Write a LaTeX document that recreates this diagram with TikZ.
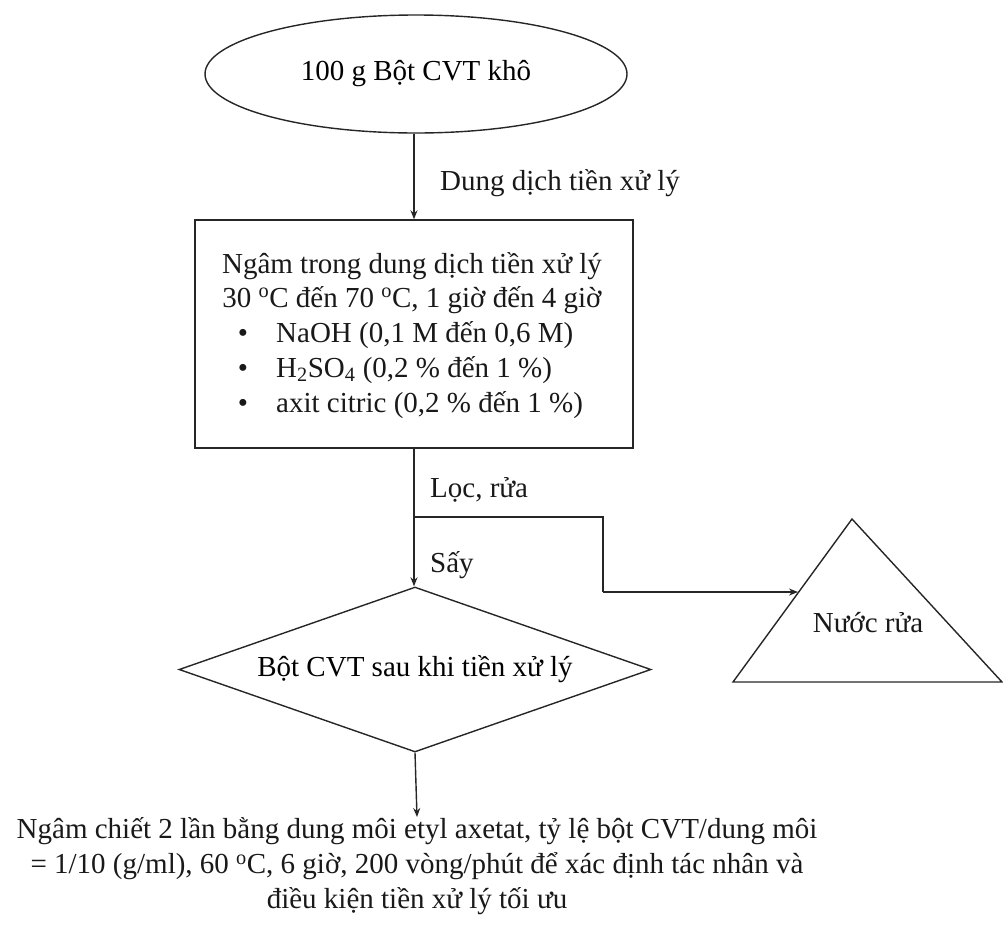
\documentclass[tikz,border=0pt]{standalone}
\usepackage{fontspec}
\setmainfont{Liberation Serif}
\usetikzlibrary{shapes.geometric,arrows.meta}
\begin{document}
\begin{tikzpicture}[x=1pt,y=-1pt,
  line/.style={line width=1.4pt, draw=black!85},
  flow/.style={line width=1.4pt, draw=black!85, -{Stealth[length=9pt,width=7pt]}},
  txt/.style={font=\fontsize{29}{35}\selectfont, inner sep=0pt, text=black!90},
]
\useasboundingbox (0,0) rectangle (1003,927);

% starting material
\node[line, ellipse, minimum width=422pt, minimum height=118pt, inner sep=0pt,
      font=\fontsize{29}{35}\selectfont] (start) at (416,74) {100 g Bột CVT khô};

% pretreatment box
\node[line, rectangle, minimum width=438pt, minimum height=228pt, inner sep=0pt] (soak) at (414,334) {};
\node[txt, anchor=base] (soak1) at (412,273) {Ngâm trong dung dịch tiền xử lý};
\node[txt, anchor=base] (soak2) at (412,307) {30 \textsuperscript{o}C đến 70 \textsuperscript{o}C, 1 giờ đến 4 giờ};
\node[txt, anchor=base] (dot1) at (243,342) {•};
\node[txt, anchor=base west] (opt1) at (276,342) {NaOH (0,1 M đến 0,6 M)};
\node[txt, anchor=base] (dot2) at (243,377) {•};
\node[txt, anchor=base west] (opt2) at (276,377) {H\textsubscript{2}SO\textsubscript{4} (0,2 \% đến 1 \%)};
\node[txt, anchor=base] (dot3) at (243,412) {•};
\node[txt, anchor=base west] (opt3) at (276,412) {axit citric (0,2 \% đến 1 \%)};

% pretreated powder
\node[line, diamond, aspect=2.85, minimum width=472pt, minimum height=165pt, inner sep=0pt,
      font=\fontsize{29}{35}\selectfont] (dry) at (415,669.5) {Bột CVT sau khi tiền xử lý};

% wash water
\coordinate (tri-top) at (852,519);
\coordinate (tri-left) at (733,682);
\coordinate (tri-right) at (1002,682);
\draw[line, line join=miter] (tri-top) -- (tri-left) -- (tri-right) -- cycle;
\node[txt] (wash) at (868,623) {Nước rửa};

% extraction step
\node[txt, align=center, anchor=north] (extract) at (417,817)
  {Ngâm chiết 2 lần bằng dung môi etyl axetat, tỷ lệ bột CVT/dung môi\\
   = 1/10 (g/ml), 60 \textsuperscript{o}C, 6 giờ, 200 vòng/phút để xác định tác nhân và\\
   điều kiện tiền xử lý tối ưu};

% connectors
\coordinate (split) at (414,517);
\coordinate (bend) at (603,592);
\coordinate (wash-in) at (798,592);
\draw[flow] (soak.north |- start.south) -- (soak.north);
\draw[flow] (soak.south) -- (soak.south |- dry.north);
\draw[line] (split) -| (bend);
\draw[flow] (bend) -- (wash-in);
\draw[flow] (dry.south) -- (extract.north);

% step labels
\node[txt, anchor=base west] (lbl-sol) at (440,190) {Dung dịch tiền xử lý};
\node[txt, anchor=base west] (lbl-wash) at (430,497) {Lọc, rửa};
\node[txt, anchor=base west] (lbl-dry) at (430,572) {Sấy};
\end{tikzpicture}
\end{document}
